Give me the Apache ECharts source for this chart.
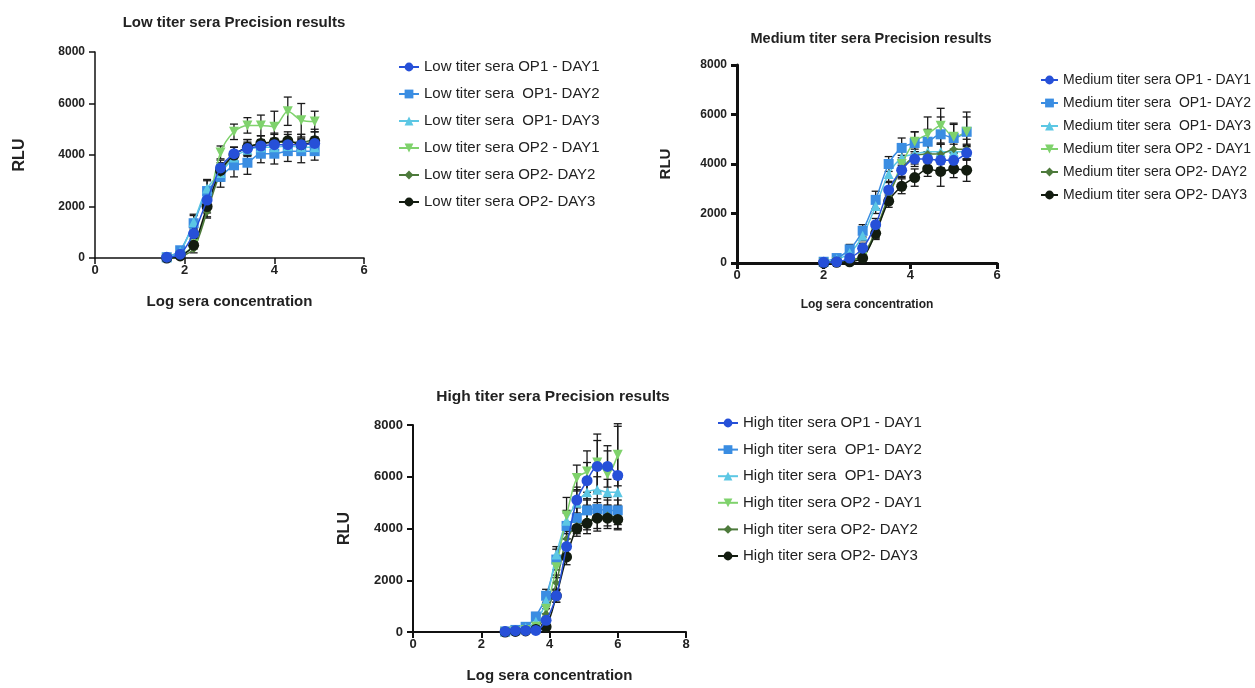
<!DOCTYPE html>
<html>
<head>
<meta charset="utf-8">
<title>Precision results</title>
<script src="https://cdn.jsdelivr.net/npm/echarts@6/dist/echarts.min.js"></script>
<style>
  html, body { margin: 0; padding: 0; background: #fff; }
  #chart { width: 1255px; height: 688px; }
</style>
</head>
<body>
<div id="chart"></div>
<script>
// log sera concentration (x) for each panel
var lowX = [1.6, 1.9, 2.2, 2.5, 2.8, 3.1, 3.4, 3.7, 4.0, 4.3, 4.6, 4.9]
var medX = [2.0, 2.3, 2.6, 2.9, 3.2, 3.5, 3.8, 4.1, 4.4, 4.7, 5.0, 5.3]
var highX = [2.7, 3.0, 3.3, 3.6, 3.9, 4.2, 4.5, 4.8, 5.1, 5.4, 5.7, 6.0]

var lowNames = ['Low titer sera OP1 - DAY1', 'Low titer sera  OP1- DAY2', 'Low titer sera  OP1- DAY3',
  'Low titer sera OP2 - DAY1', 'Low titer sera OP2- DAY2', 'Low titer sera OP2- DAY3']
var medNames = ['Medium titer sera OP1 - DAY1', 'Medium titer sera  OP1- DAY2', 'Medium titer sera  OP1- DAY3',
  'Medium titer sera OP2 - DAY1', 'Medium titer sera OP2- DAY2', 'Medium titer sera OP2- DAY3']
var highNames = ['High titer sera OP1 - DAY1', 'High titer sera  OP1- DAY2', 'High titer sera  OP1- DAY3',
  'High titer sera OP2 - DAY1', 'High titer sera OP2- DAY2', 'High titer sera OP2- DAY3']

// RLU means, low titer
var lowOp1Day1 = [30, 150, 950, 2250, 3500, 4050, 4250, 4350, 4400, 4400, 4400, 4450]
var lowOp1Day2 = [30, 300, 1350, 2600, 3150, 3600, 3700, 4050, 4050, 4150, 4150, 4150]
var lowOp1Day3 = [30, 250, 1400, 2700, 3300, 3900, 4200, 4300, 4300, 4350, 4300, 4300]
var lowOp2Day1 = [0, 100, 530, 1900, 4100, 4900, 5150, 5150, 5100, 5700, 5350, 5300]
var lowOp2Day2 = [0, 50, 350, 1800, 3300, 4000, 4300, 4450, 4500, 4500, 4500, 4600]
var lowOp2Day3 = [0, 80, 500, 2000, 3400, 4000, 4300, 4450, 4500, 4550, 4400, 4550]
// SD (error bars), low titer
var lowErr1 = [20, 50, 200, 300, 300, 250, 250, 250, 250, 250, 250, 250]
var lowErr2 = [30, 80, 300, 400, 400, 450, 450, 350, 400, 400, 450, 350]
var lowErr3 = [30, 80, 300, 350, 300, 250, 250, 250, 250, 250, 250, 250]
var lowErr4 = [20, 50, 150, 300, 250, 300, 300, 400, 600, 550, 650, 400]
var lowErr5 = [20, 40, 150, 250, 300, 300, 300, 300, 300, 300, 300, 300]
var lowErr6 = [20, 40, 150, 250, 300, 300, 300, 300, 350, 350, 400, 450]

// RLU means, medium titer
var medOp1Day1 = [30, 50, 200, 600, 1550, 2950, 3750, 4200, 4200, 4150, 4150, 4450]
var medOp1Day2 = [50, 200, 550, 1300, 2550, 4000, 4650, 4850, 4900, 5200, 5050, 5300]
var medOp1Day3 = [50, 150, 400, 1100, 2300, 3600, 4250, 4400, 4500, 4500, 4500, 4500]
var medOp2Day1 = [0, 30, 80, 250, 1200, 2700, 4000, 4900, 5200, 5550, 5100, 5300]
var medOp2Day2 = [0, 50, 100, 300, 1300, 2700, 3800, 4300, 4400, 4400, 4600, 4600]
var medOp2Day3 = [0, 30, 50, 200, 1200, 2500, 3100, 3450, 3800, 3700, 3800, 3750]
var medErr1 = [20, 40, 100, 200, 250, 300, 300, 300, 300, 300, 300, 300]
var medErr2 = [40, 80, 200, 250, 350, 300, 400, 450, 500, 700, 600, 800]
var medErr3 = [30, 60, 150, 200, 300, 300, 300, 300, 300, 300, 300, 300]
var medErr4 = [20, 30, 60, 150, 250, 300, 350, 400, 700, 700, 500, 600]
var medErr5 = [20, 30, 60, 150, 250, 300, 300, 300, 350, 400, 400, 400]
var medErr6 = [20, 30, 50, 100, 200, 250, 300, 350, 300, 600, 350, 450]

// RLU means, high titer
var highOp1Day1 = [20, 50, 60, 60, 450, 1400, 3300, 5100, 5850, 6400, 6400, 6050]
var highOp1Day2 = [20, 80, 200, 600, 1400, 2800, 4100, 4400, 4700, 4750, 4700, 4700]
var highOp1Day3 = [20, 60, 150, 400, 1200, 3000, 4300, 5000, 5400, 5500, 5400, 5400]
var highOp2Day1 = [0, 30, 80, 200, 900, 2500, 4500, 5950, 6200, 6550, 6100, 6850]
var highOp2Day2 = [0, 20, 50, 150, 700, 1900, 3600, 4100, 4300, 4400, 4500, 4400]
var highOp2Day3 = [0, 20, 40, 100, 200, 1400, 2900, 4000, 4200, 4400, 4400, 4350]
var highErr1 = [20, 30, 40, 50, 150, 250, 300, 500, 700, 1000, 800, 1900]
var highErr2 = [30, 50, 80, 150, 250, 400, 500, 400, 400, 400, 400, 400]
var highErr3 = [20, 40, 60, 120, 200, 300, 400, 500, 500, 500, 500, 500]
var highErr4 = [20, 30, 40, 80, 200, 400, 700, 500, 800, 1100, 900, 1200]
var highErr5 = [20, 30, 40, 60, 200, 300, 300, 300, 350, 400, 400, 400]
var highErr6 = [20, 30, 40, 50, 100, 250, 300, 300, 400, 500, 400, 400]

var yTicks = { min: 0, max: 8000, interval: 2000 }

var colors = ['#2650d8', '#3a8de2', '#5cc7e4', '#7fd26c', '#4d7a3b', '#131c10']
var symbols = ['circle', 'rect', 'triangle', 'path://M0,0L10,0L5,9Z', 'diamond', 'circle']
var symbolSizes = [11, 10, 10, 10, 8, 11]
var font = 'Liberation Sans, Arial, sans-serif'

var chart = echarts.init(document.getElementById('chart'))
var series = []

function renderErr(params, api) {
  var x = api.value(0)
  var lo = api.coord([x, Math.max(0, api.value(1))])
  var hi = api.coord([x, api.value(2)])
  var w = 4
  var style = { stroke: '#1a1a1a', lineWidth: 1.3 }
  return {
    type: 'group',
    children: [
      { type: 'line', shape: { x1: lo[0], y1: lo[1], x2: hi[0], y2: hi[1] }, style: style },
      { type: 'line', shape: { x1: hi[0] - w, y1: hi[1], x2: hi[0] + w, y2: hi[1] }, style: style },
      { type: 'line', shape: { x1: lo[0] - w, y1: lo[1], x2: lo[0] + w, y2: lo[1] }, style: style }
    ]
  }
}

function addPanel(idx, xs, names, values, errors) {
  names.forEach(function(name, i) {
    series.push({
      type: 'custom',
      name: name + ' SD',
      xAxisIndex: idx,
      yAxisIndex: idx,
      renderItem: renderErr,
      encode: { x: 0, y: [1, 2] },
      data: xs.map(function(x, j) { return [x, values[i][j] - errors[i][j], values[i][j] + errors[i][j]] }),
      silent: true,
      z: 2
    })
    series.push({
      name: name,
      type: 'line',
      xAxisIndex: idx,
      yAxisIndex: idx,
      data: xs.map(function(x, j) { return [x, values[i][j]] }),
      smooth: 0.3,
      symbol: symbols[i],
      symbolSize: symbolSizes[i],
      itemStyle: { color: colors[i], opacity: 1 },
      lineStyle: { color: colors[i], width: 1.5 },
      z: i === 0 ? 5 : 3
    })
  })
}

addPanel(0, lowX, lowNames, [lowOp1Day1, lowOp1Day2, lowOp1Day3, lowOp2Day1, lowOp2Day2, lowOp2Day3],
  [lowErr1, lowErr2, lowErr3, lowErr4, lowErr5, lowErr6])
addPanel(1, medX, medNames, [medOp1Day1, medOp1Day2, medOp1Day3, medOp2Day1, medOp2Day2, medOp2Day3],
  [medErr1, medErr2, medErr3, medErr4, medErr5, medErr6])
addPanel(2, highX, highNames, [highOp1Day1, highOp1Day2, highOp1Day3, highOp2Day1, highOp2Day2, highOp2Day3],
  [highErr1, highErr2, highErr3, highErr4, highErr5, highErr6])

function xAxisOf(idx, max, lineWidth, labelSize, nameSize, nameGap) {
  return {
    type: 'value',
    gridIndex: idx,
    min: 0,
    max: max,
    interval: 2,
    name: 'Log sera concentration',
    nameLocation: 'middle',
    nameGap: nameGap,
    nameTextStyle: { fontFamily: font, fontWeight: 'bold', fontSize: nameSize, color: '#222' },
    axisLine: { lineStyle: { color: '#111', width: lineWidth } },
    axisTick: { length: 6, lineStyle: { color: '#111', width: lineWidth } },
    axisLabel: { fontFamily: font, fontWeight: 'bold', fontSize: labelSize, color: '#222', margin: 6 },
    splitLine: { show: false }
  }
}

function yAxisOf(idx, lineWidth, labelSize, nameSize, nameGap) {
  return {
    type: 'value',
    gridIndex: idx,
    min: yTicks.min,
    max: yTicks.max,
    interval: yTicks.interval,
    name: 'RLU',
    nameLocation: 'middle',
    nameRotate: 90,
    nameGap: nameGap,
    nameTextStyle: { fontFamily: font, fontWeight: 'bold', fontSize: nameSize, color: '#222' },
    axisLine: { show: true, lineStyle: { color: '#111', width: lineWidth } },
    axisTick: { show: true, length: 6, lineStyle: { color: '#111', width: lineWidth } },
    axisLabel: {
      fontFamily: font, fontWeight: 'bold', fontSize: labelSize, color: '#222', margin: 10,
      formatter: function(v) { return String(v) }
    },
    splitLine: { show: false }
  }
}

function legendOf(names, left, top, fontSize, gap, iconW) {
  return {
    data: names,
    orient: 'vertical',
    left: left,
    top: top,
    itemWidth: iconW,
    itemHeight: 11,
    itemGap: gap,
    textStyle: { fontFamily: font, fontSize: fontSize, color: '#222', lineHeight: 16 },
    selectedMode: false
  }
}

chart.setOption({
  backgroundColor: '#fff',
  animation: false,
  title: [
    { text: 'Low titer sera Precision results', left: 229, top: 10, textAlign: 'center',
      textStyle: { fontFamily: font, fontWeight: 'bold', fontSize: 15, color: '#222' } },
    { text: 'Medium titer sera Precision results', left: 866, top: 26, textAlign: 'center',
      textStyle: { fontFamily: font, fontWeight: 'bold', fontSize: 14.5, color: '#222' } },
    { text: 'High titer sera Precision results', left: 548, top: 384, textAlign: 'center',
      textStyle: { fontFamily: font, fontWeight: 'bold', fontSize: 15.5, color: '#222' } }
  ],
  legend: [
    legendOf(lowNames, 393, 54, 15, 11, 20),
    legendOf(medNames, 1035, 67, 14, 7, 17),
    legendOf(highNames, 712, 410, 15, 10.6, 20)
  ],
  grid: [
    { left: 95, top: 52, width: 269, height: 206 },
    { left: 737, top: 65, width: 260, height: 198 },
    { left: 413, top: 425, width: 273, height: 207 }
  ],
  xAxis: [
    xAxisOf(0, 6, 1.5, 13, 15, 36),
    xAxisOf(1, 6, 3, 13, 12, 36),
    xAxisOf(2, 8, 2, 13, 15, 36)
  ],
  yAxis: [
    yAxisOf(0, 1.5, 12, 16, 67),
    yAxisOf(1, 3, 12, 15, 64),
    yAxisOf(2, 2, 13, 16, 60)
  ],
  series: series
})
</script>
</body>
</html>
